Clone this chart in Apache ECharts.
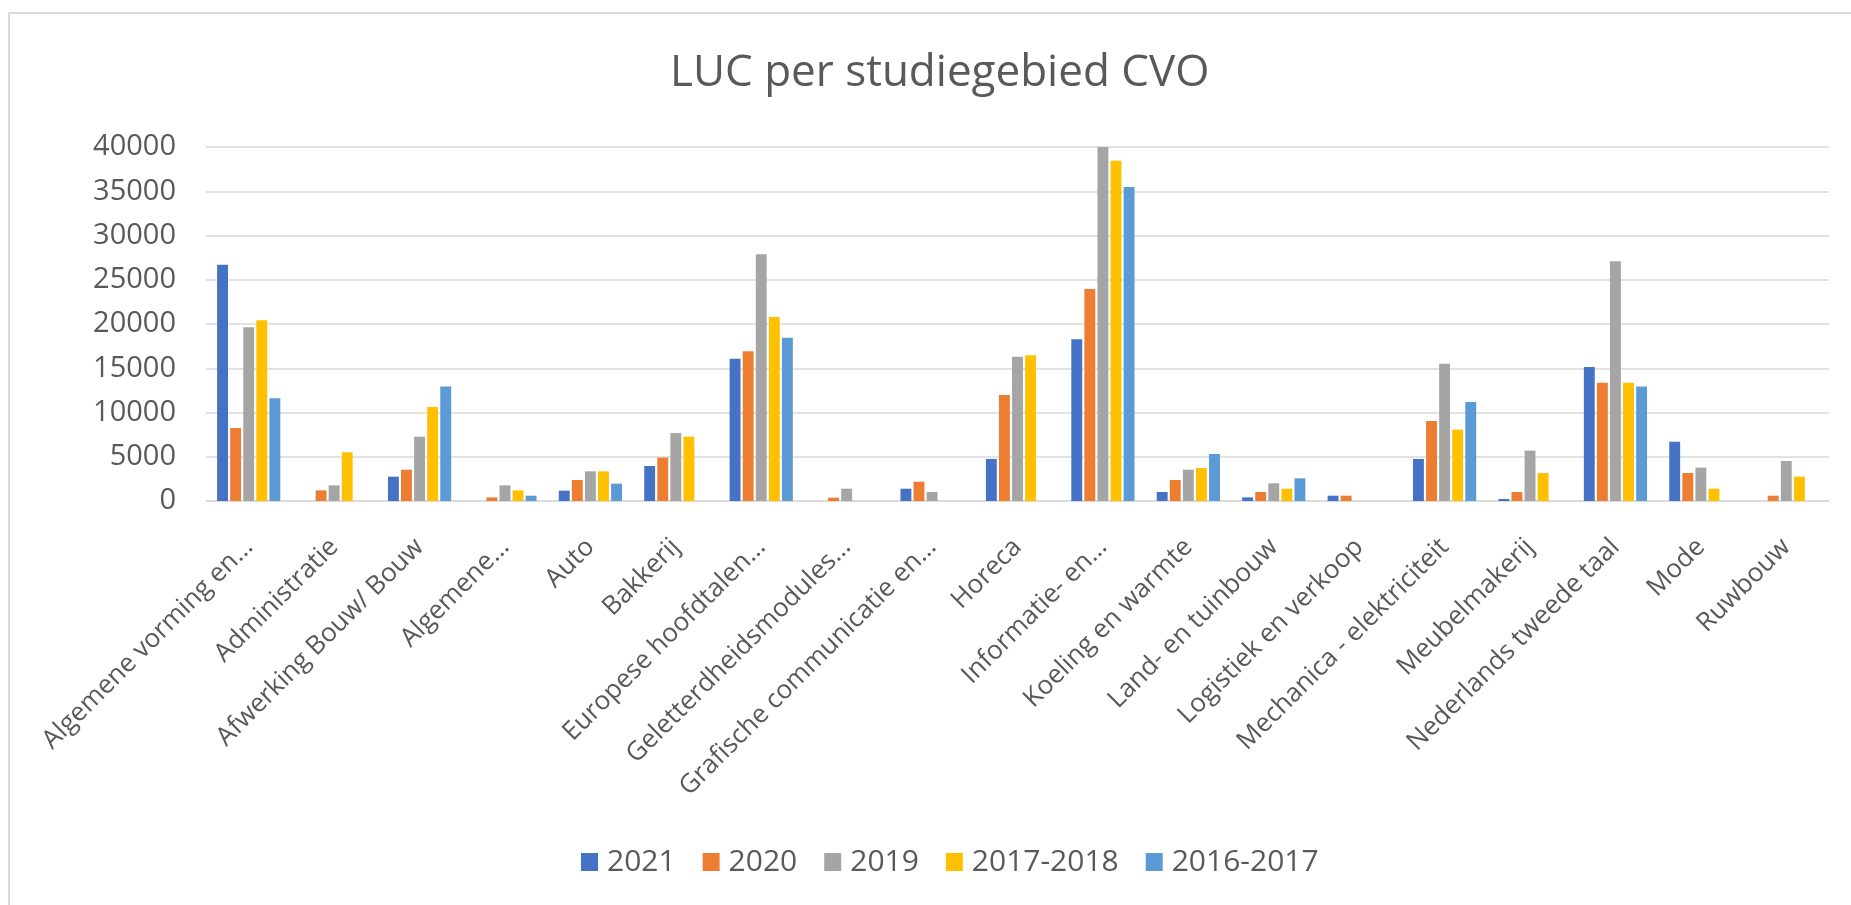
<!DOCTYPE html>
<html>
<head>
<meta charset="utf-8">
<title>LUC per studiegebied CVO</title>
<script src="https://cdn.jsdelivr.net/npm/echarts@6/dist/echarts.min.js"></script>
<style>
  html, body { margin: 0; padding: 0; background: #fff; }
  #chart { width: 1851px; height: 905px; }
</style>
</head>
<body>
<div id="chart"></div>
<script>
// categories as shown (Excel truncated the long ones)
var categories = [
  'Algemene vorming en…', 'Administratie', 'Afwerking Bouw/ Bouw', 'Algemene…',
  'Auto', 'Bakkerij', 'Europese hoofdtalen…', 'Geletterdheidsmodules…',
  'Grafische communicatie en…', 'Horeca', 'Informatie- en…', 'Koeling en warmte',
  'Land- en tuinbouw', 'Logistiek en verkoop', 'Mechanica - elektriciteit',
  'Meubelmakerij', 'Nederlands tweede taal', 'Mode', 'Ruwbouw'
];

var seriesNames = ['2021', '2020', '2019', '2017-2018', '2016-2017'];

var v2021 = [26700, null, 2750, null, 1170, 3950, 16080, null, 1390, 4750, 18270, 1020, 410, 600, 4750, 230, 15140, 6700, null];
var v2020 = [8250, 1200, 3540, 410, 2370, 4900, 16910, 380, 2180, 11980, 23950, 2370, 1020, 600, 9040, 1020, 13370, 3160, 600];
var v2019 = [19620, 1770, 7270, 1770, 3350, 7680, 27870, 1390, 1020, 16300, 40000, 3540, 2000, null, 15520, 5690, 27080, 3770, 4520];
var v1718 = [20410, 5500, 10620, 1200, 3350, 7270, 20790, null, null, 16460, 38450, 3730, 1390, null, 8060, 3160, 13370, 1390, 2750];
var v1617 = [11600, null, 12950, 600, 1960, null, 18450, null, null, null, 35480, 5310, 2560, null, 11190, null, 12950, null, null];

var yTicks = { min: 0, max: 40000, interval: 5000 };

var colors = ['#4472C4', '#ED7D31', '#A5A5A5', '#FFC000', '#5B9BD5'];
var allValues = [v2021, v2020, v2019, v1718, v1617];

var textGray = '#595959';
var font = "'Open Sans', 'Noto Sans', sans-serif";

var chart = echarts.init(document.getElementById('chart'));

var series = seriesNames.map(function (name, i) {
  return {
    name: name,
    type: 'bar',
    data: allValues[i],
    itemStyle: { color: colors[i] },
    barGap: '20%',
    barCategoryGap: '26%'
  };
});

var option = {
  animation: false,
  color: colors,
  textStyle: { fontFamily: font },
  title: {
    text: 'LUC per studiegebied CVO',
    left: 665,
    top: 46,
    textStyle: { fontFamily: font, fontSize: 44, fontWeight: 'normal', color: textGray }
  },
  legend: {
    data: seriesNames,
    left: 576,
    top: 842,
    icon: 'rect',
    itemWidth: 17,
    itemHeight: 18,
    itemGap: 27,
    textStyle: { fontFamily: font, fontSize: 30, color: textGray, padding: [0, 0, 0, 4] }
  },
  grid: { left: 206, right: 22, top: 147, bottom: 404, containLabel: false },
  xAxis: {
    type: 'category',
    data: categories,
    axisLine: { lineStyle: { color: '#d9d9d9', width: 1.5 } },
    axisTick: { show: false },
    axisLabel: {
      interval: 0,
      rotate: 45,
      margin: 42,
      fontFamily: font,
      fontSize: 26,
      color: textGray
    }
  },
  yAxis: {
    type: 'value',
    min: yTicks.min,
    max: yTicks.max,
    interval: yTicks.interval,
    axisLine: { show: false },
    axisTick: { show: false },
    splitLine: { lineStyle: { color: '#d9d9d9', width: 1.5 } },
    axisLabel: {
      margin: 30,
      fontFamily: font,
      fontSize: 29,
      color: textGray,
      formatter: function (v) { return String(v); }
    }
  },
  graphic: [
    {
      // chart frame: only the top and left edges are inside the picture
      type: 'polyline',
      silent: true,
      shape: { points: [[9, 905], [9, 13], [1851, 13]] },
      style: { stroke: '#d9d9d9', lineWidth: 2, fill: null }
    }
  ],
  series: series
};

chart.setOption(option);
</script>
</body>
</html>
